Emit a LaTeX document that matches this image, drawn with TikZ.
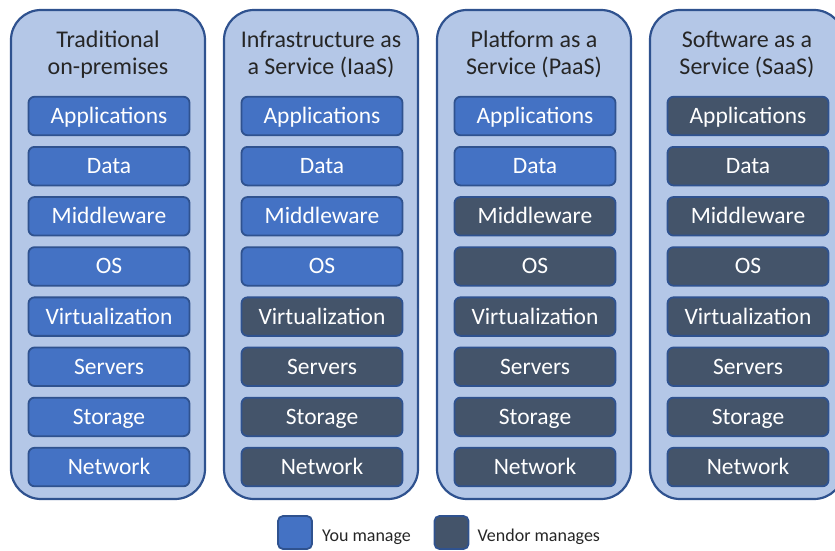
\documentclass[tikz,border=0pt]{standalone}
\usepackage{fontspec}
\setmainfont{Carlito}
\usetikzlibrary{positioning}
\definecolor{paleblue}{HTML}{B4C7E7}
\definecolor{edgeblue}{HTML}{2F528F}
\definecolor{youblue}{HTML}{4472C4}
\definecolor{vendorgrey}{HTML}{44546A}
\definecolor{titlegrey}{HTML}{262626}
\tikzset{
  servicecol/.style={draw=edgeblue, line width=2.2pt, fill=paleblue, rounded corners=30pt,
    minimum width=194pt, minimum height=489pt, inner sep=0pt},
  layerbox/.style={draw=edgeblue, line width=1.8pt, rounded corners=6pt, minimum width=161pt,
    minimum height=38.5pt, inner sep=0pt, text height=15pt, text depth=0pt, text=white,
    font=\fontsize{23.5}{26}\selectfont},
  youbox/.style={layerbox, fill=youblue},
  vendorbox/.style={layerbox, fill=vendorgrey},
  coltitle/.style={align=center, text=titlegrey, font=\fontsize{24}{27}\selectfont},
  keybox/.style={draw=edgeblue, line width=1.8pt, rounded corners=5pt, minimum width=34pt,
    minimum height=33pt, inner sep=0pt},
  keytext/.style={font=\fontsize{18}{20}\selectfont, text=titlegrey, inner sep=0pt,
    text height=17pt, text depth=0pt}
}

\begin{document}
\begin{tikzpicture}[x=1pt, y=-1pt]
    \clip (0,0) rectangle (835,551);
    \foreach \name/\heading/\mine [count=\c from 0] in {trad/{Traditional\\on-premises}/8,
        iaas/{Infrastructure as\\a Service (IaaS)}/4, paas/{Platform as a\\Service (PaaS)}/2,
        saas/{Software as a\\Service (SaaS)}/0}{
        \node[servicecol] (\name) at ({108+213*\c}, 254.5) {};
        \node[coltitle] (\name-title) at ({108+213*\c}, 54.5) {\heading};
        \foreach \layer [count=\k] in {Applications, Data, Middleware, OS, Virtualization,
            Servers, Storage, Network}{
            \ifnum\k>\mine\relax \def\boxstyle{vendorbox}\else \def\boxstyle{youbox}\fi
            \node[\boxstyle] (\name-\k) at ({109+213*\c}, {116+50.15*(\k-1)}) {\layer};
        }
    }
    % legend
    \node[keybox, fill=youblue] (youkey) at (295, 532.5) {};
    \node[keytext, right=9pt of youkey] (youtext) {You manage};
    \node[keybox, fill=vendorgrey] (vendorkey) at (451.5, 532.5) {};
    \node[keytext, right=8pt of vendorkey] (vendortext) {Vendor manages};
\end{tikzpicture}
\end{document}
